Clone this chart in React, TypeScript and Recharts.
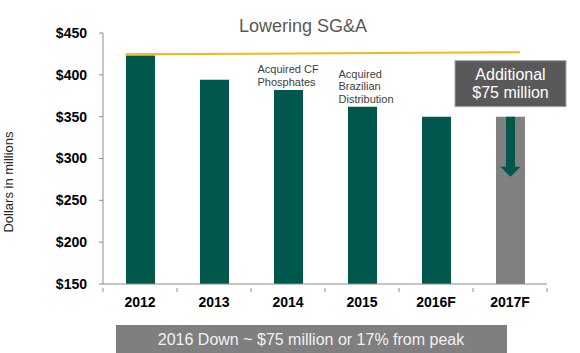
import React from 'react';
import {
  BarChart,
  Bar,
  Cell,
  XAxis,
  YAxis,
  ReferenceLine,
  LabelList,
  Customized,
} from 'recharts';

const years = ['2012', '2013', '2014', '2015', '2016F', '2017F'];
const sgaValues = [423, 394, 382, 362, 350, 350];
const notes = ['', '', 'Acquired CF\nPhosphates', 'Acquired\nBrazilian\nDistribution', '', ''];
const yTicks = [150, 200, 250, 300, 350, 400, 450];
const peakLine = [
  { x: '2012', y: 424.5 },
  { x: '2017F', y: 427 },
];
const forecastNote = ['Additional', '$75 million'];
const footerText = '2016 Down ~ $75 million or 17% from peak';

const FONT = '"Liberation Sans", Arial, sans-serif';
const GREEN = '#00584c';
const GRAY_BAR = '#808080';
const AXIS = '#8c8c8c';
const noteOffsets = [0, 0, -31, -24, 0, 0];
const BAND = 74;

const chartData = years.map((year, i) => ({
  year,
  value: sgaValues[i],
  note: notes[i],
}));

const renderNotes = (props: any) => {
  const { x, y, width, index } = props;
  const cx = x + width / 2;
  const note = notes[index];
  if (index === years.length - 1) {
    // forecast box + down arrow
    const boxW = 111;
    const boxH = 46;
    const bx = cx - boxW / 2;
    const by = y - 10 - boxH;
    return (
      <g>
        <rect x={bx} y={by} width={boxW} height={boxH} fill="#595959" stroke="#a6a6a6" strokeWidth={1} />
        {forecastNote.map((line, i) => (
          <text
            key={i}
            x={cx}
            y={by + 19 + i * 18}
            textAnchor="middle"
            fill="#ffffff"
            fontSize={16}
            fontFamily={FONT}
          >
            {line}
          </text>
        ))}
        <path
          d={`M${cx - 4.5},${y} L${cx + 4.5},${y} L${cx + 4.5},${y + 50} L${cx + 10},${y + 50} L${cx},${y + 60} L${cx - 10},${y + 50} L${cx - 4.5},${y + 50} Z`}
          fill={GREEN}
        />
      </g>
    );
  }
  if (!note) return null;
  const lines = note.split('\n');
  const startX = cx + noteOffsets[index];
  return (
    <text x={startX} fontSize={11} fill="#404040" fontFamily={FONT}>
      {lines.map((line, i) => (
        <tspan key={i} x={startX} y={y - 4 - (lines.length - 1 - i) * 12.5}>
          {line}
        </tspan>
      ))}
    </text>
  );
};

// category label plus tick marks on the band edges
const YearTick = (props: any) => {
  const { x, y, payload, index } = props;
  const top = y - 9;
  return (
    <g>
      <line x1={x - BAND / 2} y1={top} x2={x - BAND / 2} y2={top + 4} stroke={AXIS} />
      {index === years.length - 1 && (
        <line x1={x + BAND / 2} y1={top} x2={x + BAND / 2} y2={top + 4} stroke={AXIS} />
      )}
      <text
        x={x}
        y={y}
        dy="0.71em"
        textAnchor="middle"
        fill="#000"
        fontSize={14}
        fontWeight="bold"
        fontFamily={FONT}
      >
        {payload.value}
      </text>
    </g>
  );
};

const PeakLine = (props: any) => {
  const { x1, y1, x2, y2 } = props;
  return (
    <line x1={x1 - 14.5} y1={y1} x2={x2 + 10} y2={y2} stroke="#f0b81c" strokeWidth={2} />
  );
};

const Decorations = () => (
  <g fontFamily={FONT}>
    <text x={303} y={32} textAnchor="middle" fontSize={18} fill="#595959">
      Lowering SG&amp;A
    </text>
    <text
      x={13}
      y={182}
      transform="rotate(-90 13 182)"
      textAnchor="middle"
      fontSize={13}
      fill="#262626"
    >
      Dollars in millions
    </text>
    <rect x={116} y={325} width={391} height={30} fill="#7f7f7f" />
    <text x={311} y={345} textAnchor="middle" fontSize={16} fill="#f2f2f2">
      {footerText}
    </text>
  </g>
);

const App: React.FC = () => {
  return (
    <div style={{ position: 'absolute', left: 0, top: 0, background: '#fff' }}>
      <BarChart
        width={580}
        height={353}
        data={chartData}
        margin={{ top: 33, right: 33, bottom: 39, left: 0 }}
      >
        <XAxis
          dataKey="year"
          height={30}
          axisLine={{ stroke: AXIS }}
          tickLine={false}
          tickSize={4}
          tickMargin={9}
          tick={<YearTick />}
          interval={0}
        />
        <YAxis
          width={103}
          domain={[150, 450]}
          ticks={yTicks}
          interval={0}
          tickFormatter={(v: number) => `$${v}`}
          tickSize={4}
          tickMargin={12}
          axisLine={{ stroke: AXIS }}
          tickLine={{ stroke: AXIS }}
          tick={{ fill: '#000', fontSize: 14, fontWeight: 'bold', fontFamily: FONT }}
          allowDataOverflow
        />
        <Bar dataKey="value" barSize={29} isAnimationActive={false}>
          {chartData.map((entry, i) => (
            <Cell key={`cell-${i}`} fill={i === years.length - 1 ? GRAY_BAR : GREEN} />
          ))}
          <LabelList dataKey="note" content={renderNotes} />
        </Bar>
        <ReferenceLine segment={peakLine} shape={PeakLine} />
        <Customized component={<Decorations />} />
      </BarChart>
    </div>
  );
};

export default App;
